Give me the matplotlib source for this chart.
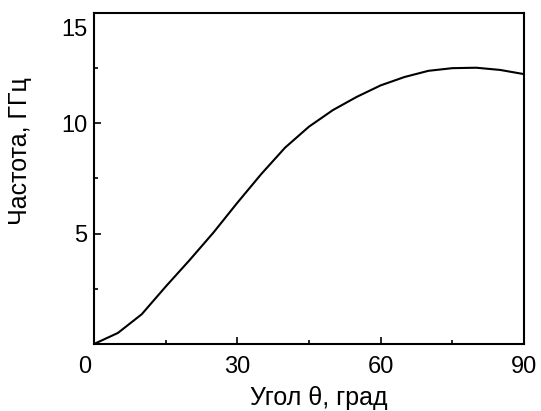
import numpy as np
import matplotlib.pyplot as plt
from matplotlib.ticker import MultipleLocator
from matplotlib.transforms import ScaledTranslation

plt.rcParams['font.family'] = ['Liberation Sans', 'DejaVu Sans']

# угол, град и частота, ГГц
theta = [0, 5, 10, 15, 20, 25, 30, 35, 40, 45, 50, 55, 60, 65, 70, 75, 80, 85, 90]
freq = [0.0, 0.5, 1.35, 2.6, 3.8, 5.05, 6.4, 7.7, 8.9, 9.85, 10.6, 11.2, 11.72,
        12.1, 12.38, 12.5, 12.52, 12.42, 12.23]

fig = plt.figure(figsize=(5.41, 4.11), dpi=100)
ax = fig.add_axes([94/541, 1 - 344/411, 430/541, 331/411])

ax.plot(theta, freq, color='black', lw=1.5)

ax.set_xlim(0, 90)
ax.set_ylim(0, 15)
ax.set_xticks([0, 30, 60, 90])
ax.set_yticks([5, 10, 15])
ax.xaxis.set_minor_locator(MultipleLocator(15))
ax.yaxis.set_minor_locator(MultipleLocator(2.5))

ax.tick_params(which='both', direction='in', top=False, right=False,
               labelsize=17, width=1.2)
ax.tick_params(which='major', length=5)
ax.tick_params(which='minor', length=2.7)
ax.tick_params(axis='x', pad=8.5)
ax.tick_params(axis='y', pad=4.8)

for s in ax.spines.values():
    s.set_linewidth(1.5)

# подписи "0" и "15" в оригинале немного сдвинуты
for lab in ax.get_xticklabels():
    if lab.get_text() == '0':
        lab.set_transform(lab.get_transform() + ScaledTranslation(-0.09, 0, fig.dpi_scale_trans))
for lab in ax.get_yticklabels():
    if lab.get_text() == '15':
        lab.set_transform(lab.get_transform() + ScaledTranslation(0, -0.15, fig.dpi_scale_trans))

ax.set_xlabel('Угол θ, град', fontsize=18)
ax.set_ylabel('Частота, ГГц', fontsize=18)
ax.xaxis.set_label_coords(0.523, -0.127)
ax.yaxis.set_label_coords(-0.145, 0.583)

fig.savefig('out.png', dpi=100)
